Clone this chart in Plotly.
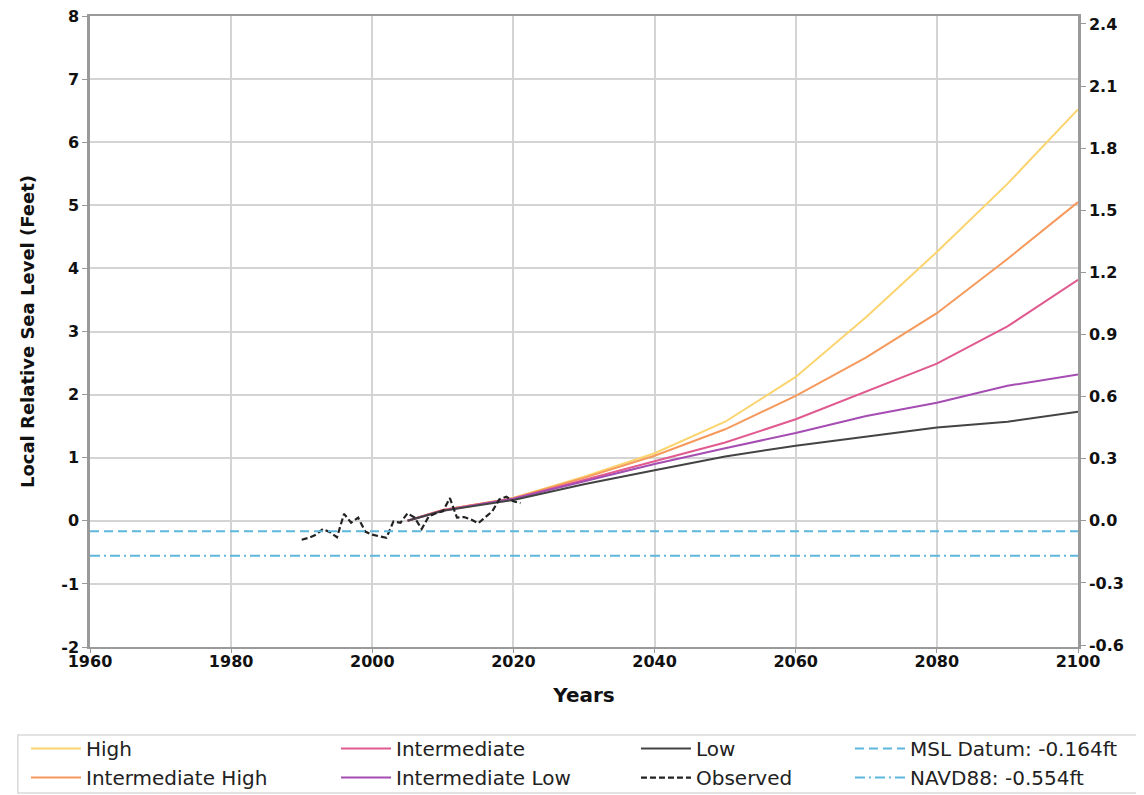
import plotly.graph_objects as go

# ---------------- data ----------------
proj_years = [2005, 2010, 2020, 2030, 2040, 2050, 2060, 2070, 2080, 2090, 2100]
high = [0.0, 0.17, 0.36, 0.70, 1.07, 1.57, 2.28, 3.23, 4.26, 5.34, 6.52]
int_high = [0.0, 0.17, 0.36, 0.68, 1.03, 1.45, 1.98, 2.59, 3.29, 4.15, 5.05]
intermediate = [0.0, 0.17, 0.35, 0.65, 0.94, 1.24, 1.61, 2.05, 2.49, 3.08, 3.82]
int_low = [0.0, 0.16, 0.35, 0.62, 0.90, 1.15, 1.39, 1.66, 1.87, 2.14, 2.32]
low = [0.0, 0.16, 0.33, 0.58, 0.80, 1.02, 1.19, 1.34, 1.48, 1.57, 1.73]

obs_years = list(range(1990, 2022))
observed = [-0.30, -0.27, -0.22, -0.13, -0.18, -0.26, 0.11, -0.03, 0.05, -0.17,
            -0.22, -0.25, -0.27, -0.01, -0.03, 0.12, 0.05, -0.13, 0.07, 0.12,
            0.15, 0.36, 0.05, 0.06, 0.02, -0.04, 0.05, 0.15, 0.34, 0.38,
            0.31, 0.28]

datum_x = [1960, 2100]
msl_datum = -0.164
navd88 = -0.554

x_ticks = [1960, 1980, 2000, 2020, 2040, 2060, 2080, 2100]
y_ticks_ft = [-2, -1, 0, 1, 2, 3, 4, 5, 6, 7, 8]
y_ticks_m = [-0.6, -0.3, 0.0, 0.3, 0.6, 0.9, 1.2, 1.5, 1.8, 2.1, 2.4]
FT_TO_M = 0.3048

# ---------------- figure ----------------
FONT = "DejaVu Sans"
fig = go.Figure()

series = [
    ("High", high, "#FBD46E", "legend"),
    ("Intermediate High", int_high, "#F59A5C", "legend"),
    ("Intermediate", intermediate, "#E05A90", "legend2"),
    ("Intermediate Low", int_low, "#A54DB3", "legend2"),
    ("Low", low, "#444444", "legend3"),
]
for name, vals, color, leg in series:
    fig.add_trace(go.Scatter(x=proj_years, y=vals, mode="lines", name=name,
                             line=dict(color=color, width=2), legend=leg))

fig.add_trace(go.Scatter(x=obs_years, y=observed, mode="lines", name="Observed",
                         line=dict(color="#222222", width=2.2, dash="6px,3px"),
                         legend="legend3"))

fig.add_trace(go.Scatter(x=datum_x, y=[msl_datum, msl_datum], mode="lines",
                         name="MSL Datum: -0.164ft",
                         line=dict(color="#5DB7DC", width=2, dash="9px,5px"),
                         legend="legend4"))
fig.add_trace(go.Scatter(x=datum_x, y=[navd88, navd88], mode="lines",
                         name="NAVD88: -0.554ft",
                         line=dict(color="#5DB7DC", width=2, dash="10px,4px,2px,4px"),
                         legend="legend4"))

# invisible trace to anchor the right (metres) axis
fig.add_trace(go.Scatter(x=[], y=[], yaxis="y2", showlegend=False, hoverinfo="skip"))

tickfont = dict(family=FONT, size=16, color="#111111", weight="bold")
axcol = "#9a9a9a"

fig.update_layout(
    width=1144, height=795,
    margin=dict(l=82, r=74, t=8, b=156, autoexpand=False),
    paper_bgcolor="white", plot_bgcolor="white",
    font=dict(family=FONT, color="#111111"),
    xaxis=dict(range=[1960, 2100], tickvals=x_ticks, showgrid=True, automargin=False,
               gridcolor="#d4d4d4", gridwidth=1.5, zeroline=False,
               showline=True, linecolor=axcol, linewidth=2, mirror=True,
               ticks="outside", ticklen=4, tickcolor=axcol, tickfont=tickfont,
               ticklabelstandoff=-5, ticklabeloverflow="allow",
               title=dict(text="Years", standoff=18,
                          font=dict(family=FONT, size=20, weight="bold", color="#111111"))),
    yaxis=dict(range=[-2, 8], tickvals=y_ticks_ft, ticktext=[str(v) for v in y_ticks_ft],
               showgrid=True, automargin=False, ticklabeloverflow="allow",
               gridcolor="#d4d4d4", gridwidth=1.5, zeroline=False,
               showline=True, linecolor=axcol, linewidth=2.5, mirror=True,
               ticks="outside", ticklen=5, tickcolor=axcol, tickfont=tickfont,
               title=dict(text="Local Relative Sea Level (Feet)", standoff=22,
                          font=dict(family=FONT, size=18, weight="bold", color="#111111"))),
    yaxis2=dict(overlaying="y", side="right", anchor="x", automargin=False,
                range=[-2 * FT_TO_M, 8 * FT_TO_M], ticklabeloverflow="allow",
                tickvals=y_ticks_m, ticktext=[f"{v:.1f}" for v in y_ticks_m],
                showgrid=False, zeroline=False, showline=True, linecolor=axcol,
                linewidth=2.5, ticks="outside", ticklen=5, tickcolor=axcol,
                tickfont=tickfont),
    showlegend=True,
)

leg_common = dict(orientation="v", xanchor="left", yanchor="top",
                  xref="paper", yref="paper", y=-0.130,
                  bgcolor="rgba(0,0,0,0)", borderwidth=0, itemwidth=50,
                  tracegroupgap=0, traceorder="normal",
                  font=dict(family=FONT, size=20, color="#222222"))
fig.update_layout(
    legend=dict(x=-0.0648, **leg_common),
    legend2=dict(x=0.249, **leg_common),
    legend3=dict(x=0.5526, **leg_common),
    legend4=dict(x=0.7692, **leg_common),
)

fig.add_shape(type="rect", xref="paper", yref="paper",
              x0=-0.073, x1=1.066, y0=-0.2314, y1=-0.1395,
              line=dict(color="#d9d9d9", width=1.5), fillcolor="rgba(0,0,0,0)",
              layer="below")

fig.write_html("out.html")
